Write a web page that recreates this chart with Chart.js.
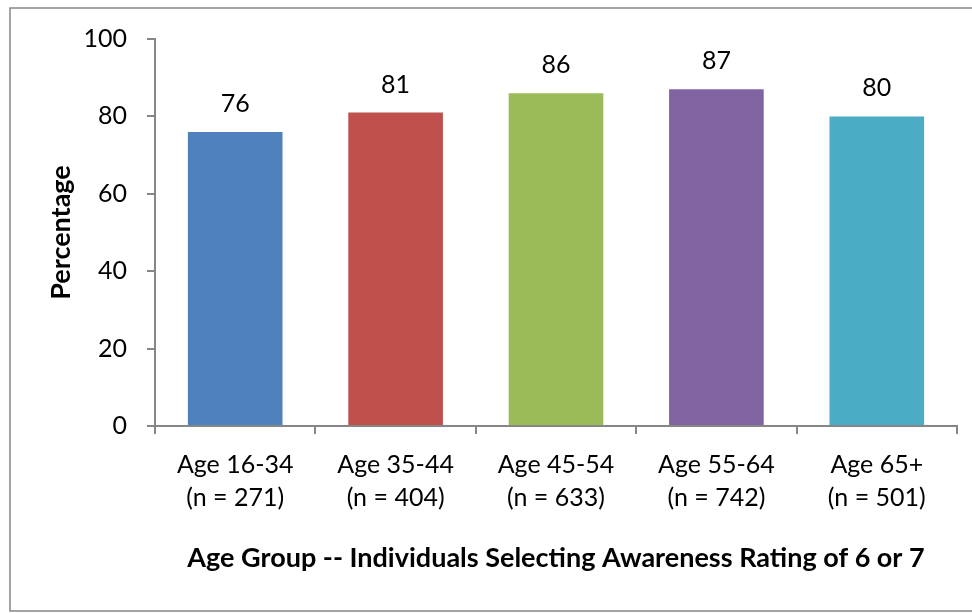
<!DOCTYPE html>
<html>
<head>
<meta charset="utf-8">
<script src="https://cdn.jsdelivr.net/npm/chart.js@4"></script>
<style>
  html, body { margin: 0; padding: 0; background: #fff; }
  #wrap { width: 972px; height: 613px; position: relative; }
</style>
</head>
<body>
<div id="wrap"><canvas id="c" width="972" height="613"></canvas></div>
<script>
const categories = [["Age 16-34", "(n = 271)"], ["Age 35-44", "(n = 404)"], ["Age 45-54", "(n = 633)"], ["Age 55-64", "(n = 742)"], ["Age 65+", "(n = 501)"]];
const percentages = [76, 81, 86, 87, 80];
const barColors = ["#4F81BD", "#C0504D", "#9BBB59", "#8064A2", "#4BACC6"];
const yTicks = [0, 20, 40, 60, 80, 100];
const xTitle = "Age Group -- Individuals Selecting Awareness Rating of 6 or 7";
const yTitle = "Percentage";

const FONT = "Lato, 'Open Sans', sans-serif";
const AXIS = "#868686";

const framePlugin = {
  id: 'frame',
  beforeDraw(chart) {
    const ctx = chart.ctx;
    ctx.save();
    ctx.fillStyle = '#fff';
    ctx.fillRect(0, 0, chart.width, chart.height);
    ctx.strokeStyle = AXIS;
    ctx.lineWidth = 1.5;
    ctx.strokeRect(10, 8, chart.width + 20, 603);
    ctx.restore();
  }
};

const labelPlugin = {
  id: 'valueLabels',
  afterDatasetsDraw(chart) {
    const ctx = chart.ctx;
    const meta = chart.getDatasetMeta(0);
    ctx.save();
    ctx.font = "25px " + FONT;
    ctx.fillStyle = "#000";
    ctx.textAlign = "center";
    ctx.textBaseline = "middle";
    meta.data.forEach((bar, i) => {
      ctx.fillText(String(chart.data.datasets[0].data[i]), bar.x, bar.y - 28);
    });
    ctx.restore();
  }
};

new Chart(document.getElementById('c'), {
  type: 'bar',
  data: {
    labels: categories,
    datasets: [{
      data: percentages,
      backgroundColor: barColors,
      borderWidth: 0,
      barPercentage: 0.59,
      categoryPercentage: 1.0
    }]
  },
  options: {
    responsive: false,
    animation: false,
    devicePixelRatio: 1,
    layout: { padding: { left: 0, top: 39, right: 15, bottom: 0 } },
    plugins: {
      legend: { display: false },
      tooltip: { enabled: false }
    },
    scales: {
      x: {
        grid: { display: true, drawOnChartArea: false, drawTicks: true, tickLength: 8, color: AXIS, lineWidth: 2, offset: true },
        border: { display: true, color: AXIS, width: 2 },
        ticks: { color: "#000", font: { family: FONT, size: 25, lineHeight: 1.32 }, padding: 14, maxRotation: 0, autoSkip: false },
        title: { display: true, text: xTitle, color: "#000", font: { family: FONT, size: 27, weight: 'bold', lineHeight: 1.2 }, padding: { top: 0, bottom: 39 } },
        afterFit(scale) { scale.height = 187; }
      },
      y: {
        min: 0, max: 100,
        afterBuildTicks(scale) { scale.ticks = yTicks.map(v => ({ value: v })); },
        grid: { display: true, drawOnChartArea: false, drawTicks: true, tickLength: 8, color: AXIS, lineWidth: 2 },
        border: { display: true, color: AXIS, width: 2 },
        ticks: { color: "#000", font: { family: FONT, size: 25 }, padding: 20 },
        title: { display: true, text: yTitle, color: "#000", font: { family: FONT, size: 27, weight: 'bold', lineHeight: 1.2 }, padding: { top: 45, bottom: 0 } },
        afterFit(scale) { scale.width = 155; }
      }
    }
  },
  plugins: [framePlugin, labelPlugin]
});
</script>
</body>
</html>
